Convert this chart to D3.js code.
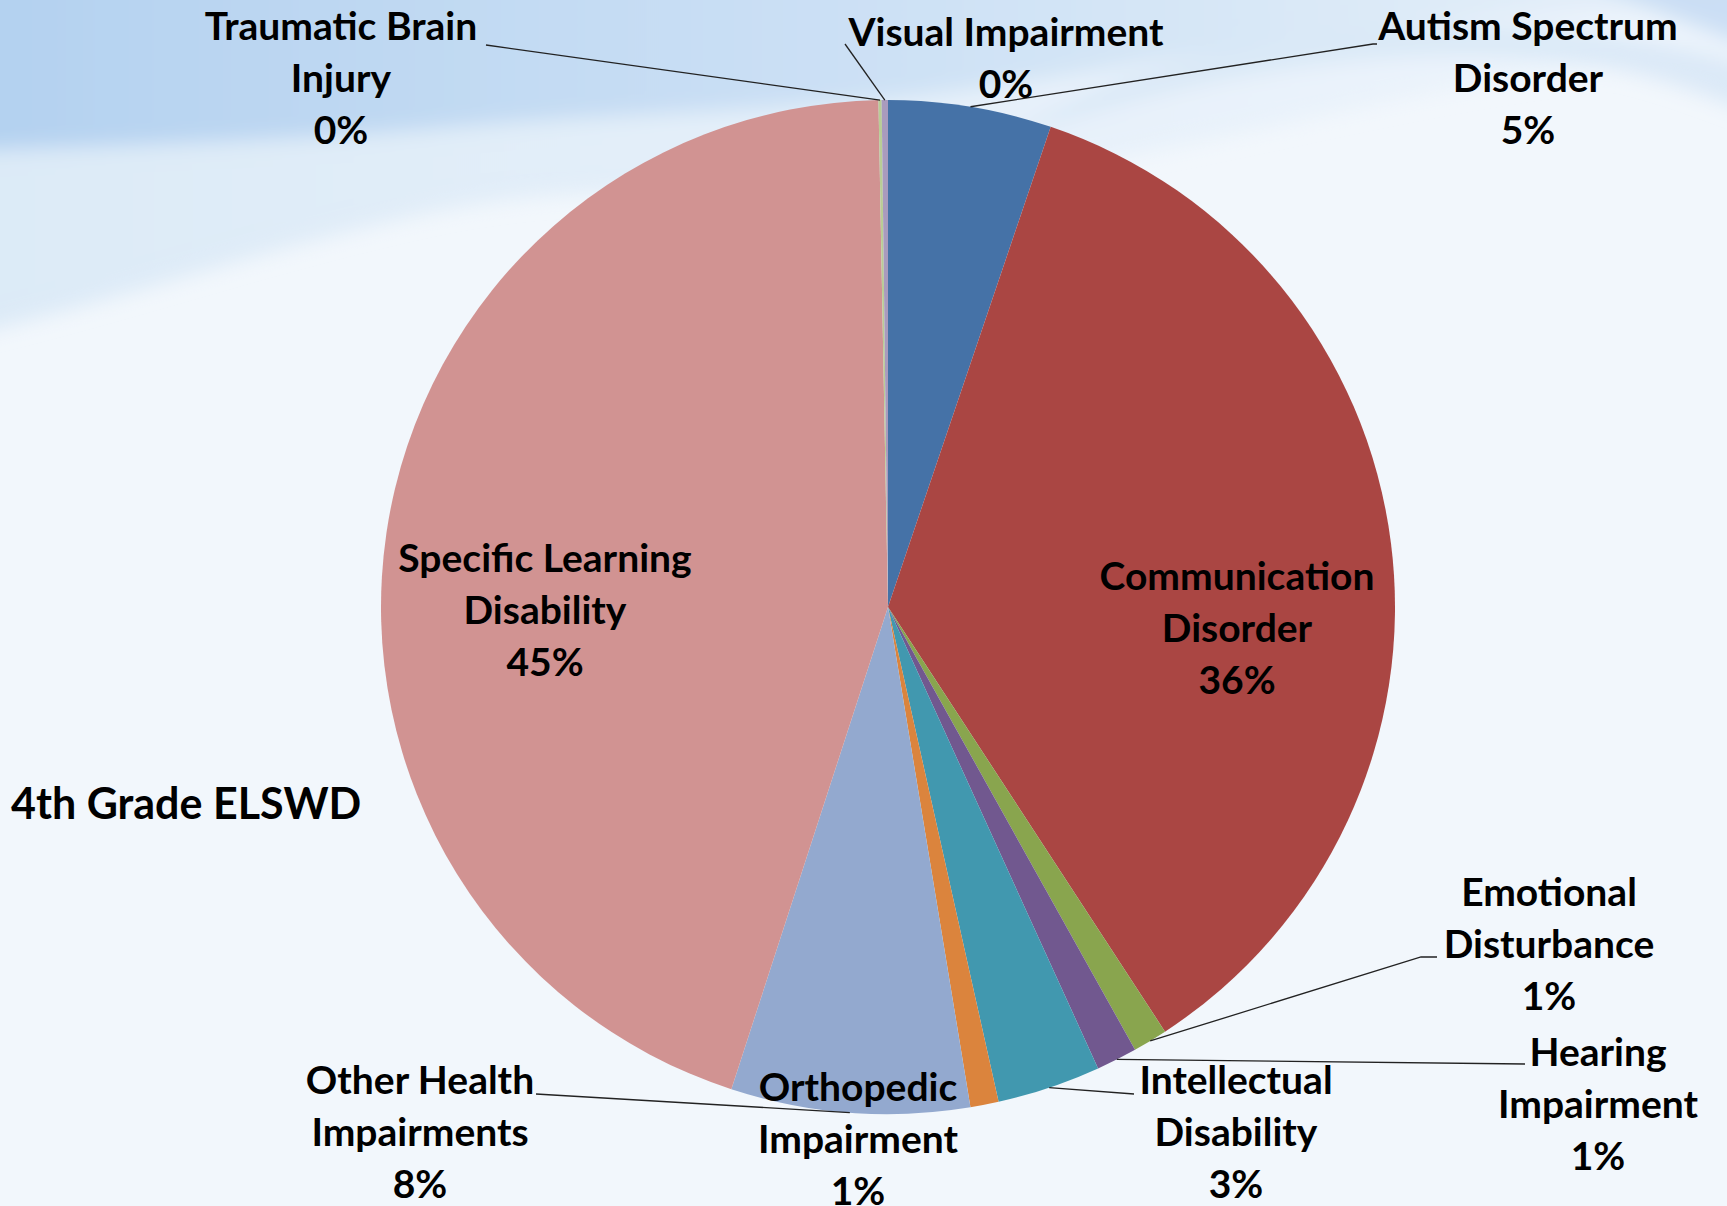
<!DOCTYPE html>
<html><head><meta charset="utf-8">
<script src="https://cdn.jsdelivr.net/npm/d3@7"></script>
<style>html,body{margin:0;padding:0;background:#F2F7FC;overflow:hidden}</style>
</head><body>
<svg id="chart" width="1727" height="1206"></svg>
<script>
// ---- data ----
const categories = ["Autism Spectrum Disorder","Communication Disorder","Emotional Disturbance","Hearing Impairment","Intellectual Disability","Orthopedic Impairment","Other Health Impairments","Specific Learning Disability","Traumatic Brain Injury","Visual Impairment"];
const values = [5.2, 35.6, 1.1, 1.3, 3.3, 0.9, 7.6, 44.7, 0.1, 0.2];
const labelLines = [["Autism Spectrum","Disorder"],["Communication","Disorder"],["Emotional","Disturbance"],["Hearing","Impairment"],["Intellectual","Disability"],["Orthopedic","Impairment"],["Other Health","Impairments"],["Specific Learning","Disability"],["Traumatic Brain","Injury"],["Visual Impairment"]];
const colors = ["#4572A7","#AA4643","#89A54E","#71588F","#4198AF","#DB843D","#93A9CF","#D19392","#B9CD96","#A99BBD"];
const title = "4th Grade ELSWD";

// ---- layout (label centres and leader line ends) ----
const labelPos = [
  {x:1528,y:26, lx:1373,ly:44, tail:4},
  {x:1237,y:576},
  {x:1549,y:892, lx:1421,ly:957, tail:16},
  {x:1598,y:1052, lx:1525,ly:1064, tail:0},
  {x:1236,y:1080, lx:1134,ly:1094, tail:0},
  {x:858,y:1087},
  {x:420,y:1080, lx:536,ly:1094, tail:0},
  {x:545,y:558},
  {x:341,y:26, lx:486,ly:45, tail:0},
  {x:1006,y:32, lx:845,ly:44, tail:0}
];

const W=1727,H=1206, cx=888, cy=607, R=507;
const svg=d3.select("#chart");

// background waves
const defs=svg.append("defs");
defs.append("filter").attr("id","blur").attr("x","-10%").attr("y","-50%").attr("width","120%").attr("height","200%")
  .append("feGaussianBlur").attr("stdDeviation",10);
const g1=defs.append("linearGradient").attr("id","wv1").attr("x1",0).attr("y1",0).attr("x2",1).attr("y2",0);
g1.append("stop").attr("offset","0%").attr("stop-color","#B3D1F0");
g1.append("stop").attr("offset","55%").attr("stop-color","#CFE2F5");
g1.append("stop").attr("offset","100%").attr("stop-color","#E8F1FA");
const g2=defs.append("linearGradient").attr("id","wv2").attr("x1",0).attr("y1",0).attr("x2",1).attr("y2",0);
g2.append("stop").attr("offset","0%").attr("stop-color","#DCEAF7");
g2.append("stop").attr("offset","100%").attr("stop-color","#EEF5FC");
svg.append("rect").attr("width",W).attr("height",H).attr("fill","#F2F7FC");
const bg=svg.append("g").attr("filter","url(#blur)");
bg.append("path").attr("fill","url(#wv2)")
  .attr("d","M-30,-30 L1760,-30 L1760,60 C1500,60 1300,130 1050,170 C800,210 620,170 420,215 C260,250 120,300 -30,335 Z");
bg.append("path").attr("fill","url(#wv1)")
  .attr("d","M-30,-30 L1760,-30 L1760,10 C1450,5 1250,50 1000,85 C800,115 620,110 420,130 C250,142 120,145 -30,150 Z");
bg.append("path").attr("fill","#D6E6F6").attr("opacity",0.8)
  .attr("d","M1000,140 C1150,90 1350,40 1560,60 C1650,70 1700,95 1760,115 L1760,70 C1650,30 1450,10 1250,45 C1150,65 1070,100 1000,140 Z");
bg.append("path").attr("fill","#C3DAF2").attr("opacity",0.8)
  .attr("d","M1560,-30 L1760,-30 L1760,50 C1700,30 1640,5 1560,-30 Z");

const pie=d3.pie().sort(null).value(d=>d).startAngle(0).endAngle(2*Math.PI);
const arcs=pie(values);
const arc=d3.arc().innerRadius(0).outerRadius(R);
const gp=svg.append("g").attr("transform",`translate(${cx},${cy})`);
gp.selectAll("path").data(arcs).join("path").attr("d",arc).attr("fill",(d,i)=>colors[i]);

// leader lines
const gl=svg.append("g");
arcs.forEach((a,i)=>{
  const p=labelPos[i]; if(p.lx===undefined) return;
  const m=(a.startAngle+a.endAngle)/2;
  const sx=cx+R*Math.sin(m), sy=cy-R*Math.cos(m);
  const dir = p.lx<sx ? -1 : 1;
  let pts=[[sx,sy],[p.lx,p.ly]];
  if(p.tail) pts.push([p.lx+dir*p.tail,p.ly]);
  gl.append("path").attr("d",d3.line()(pts)).attr("fill","none").attr("stroke","#222").attr("stroke-width",1.3);
});

// labels
const fs=39, lh=52;
const gt=svg.append("g").attr("font-family","Lato, 'Open Sans', sans-serif").attr("font-weight",700).attr("font-size",fs).attr("fill","#000").attr("text-anchor","middle");
arcs.forEach((a,i)=>{
  const p=labelPos[i];
  const lines=labelLines[i].concat([Math.round(values[i])+"%"]);
  lines.forEach((t,k)=>{
    gt.append("text").attr("x",p.x).attr("y",p.y+k*lh+14).text(t);
  });
});

svg.append("text").attr("x",11).attr("y",819).attr("font-family","Lato, 'Open Sans', sans-serif").attr("font-weight",700).attr("font-size",43).attr("fill","#000").text(title);
</script>
</body></html>
